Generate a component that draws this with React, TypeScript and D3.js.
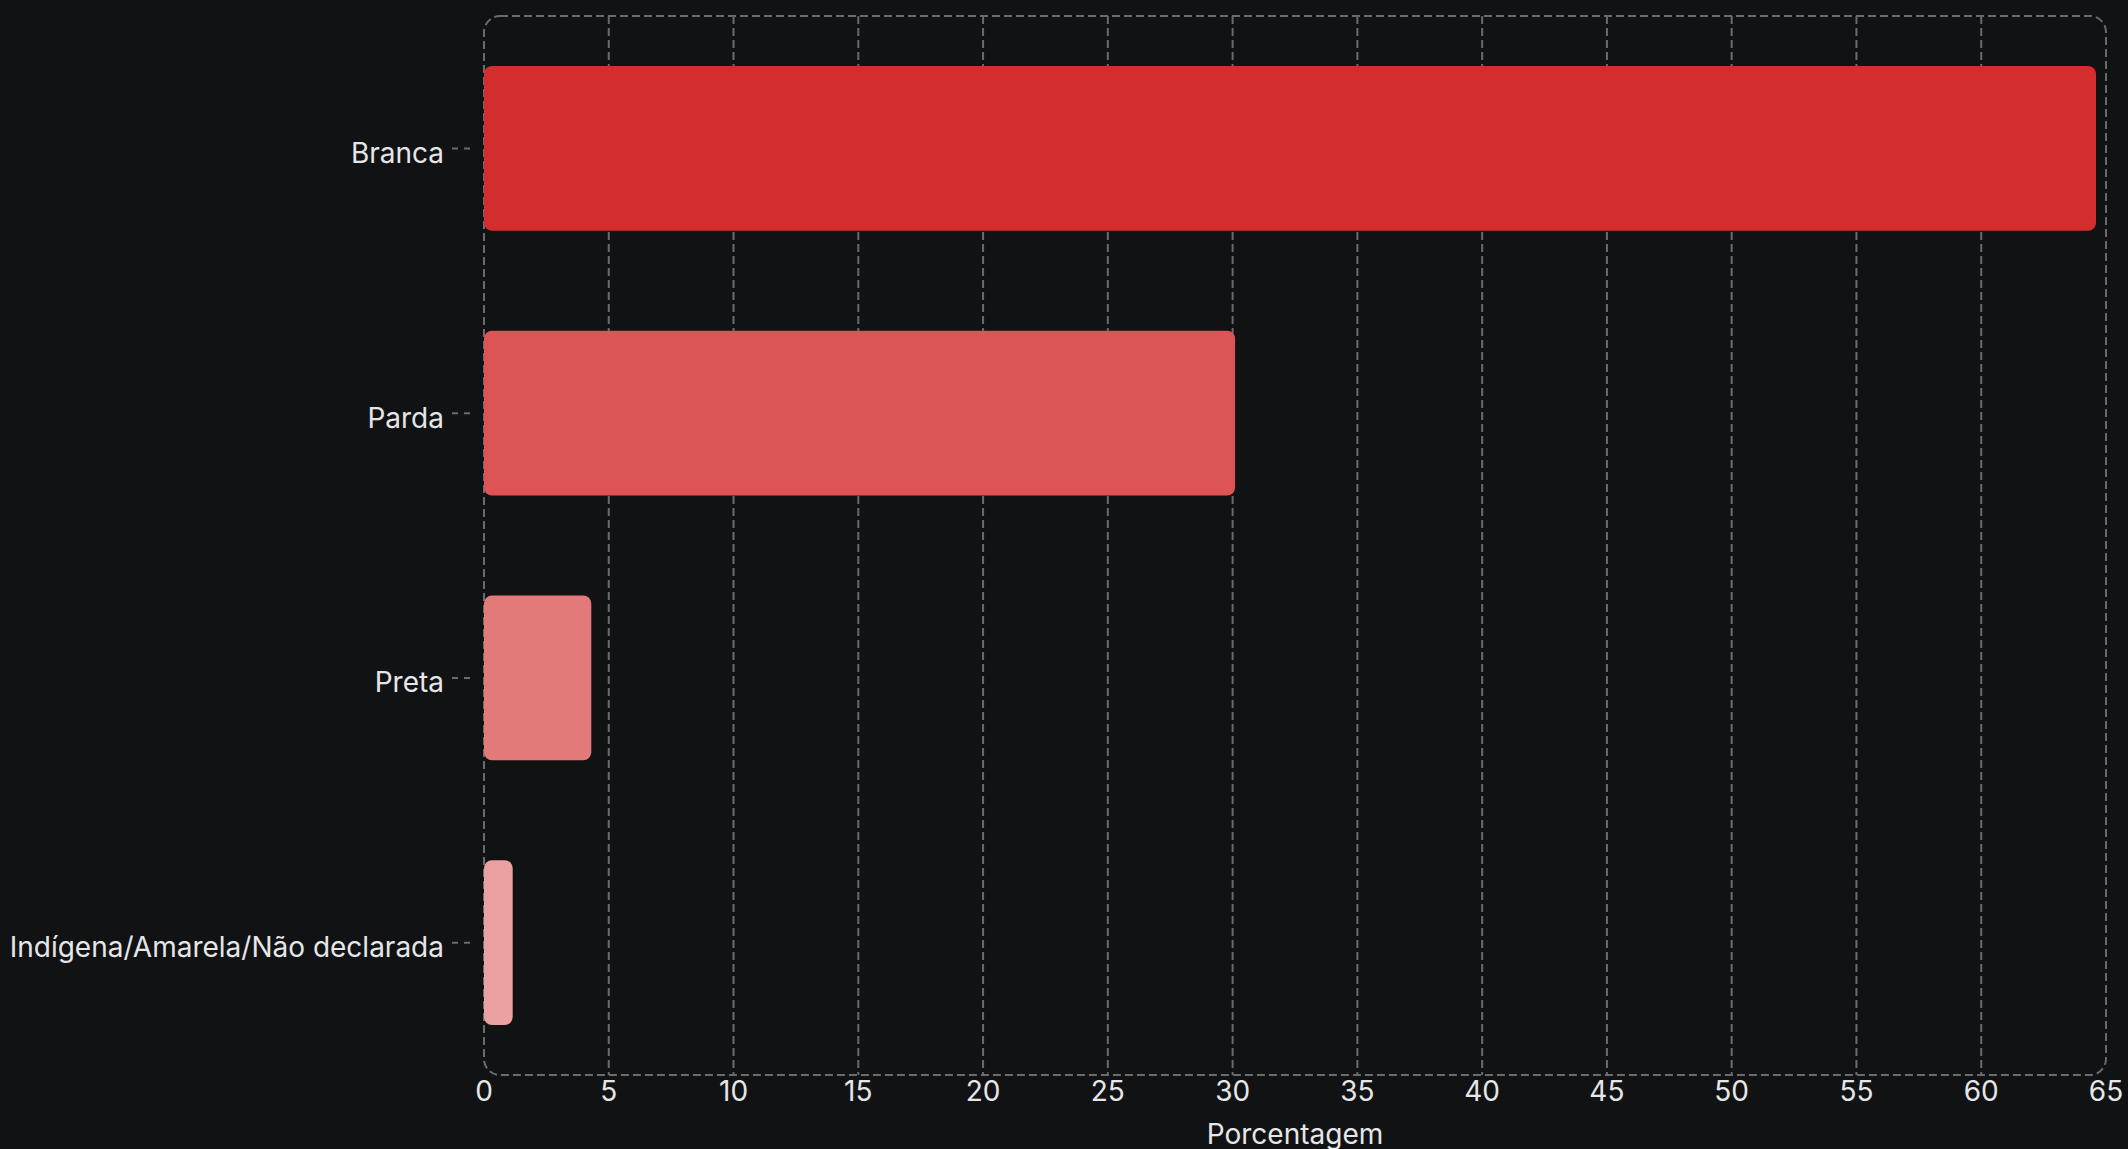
import { useEffect } from "react";
import { scaleBand, scaleLinear } from "d3";

const categories = ["Branca", "Parda", "Preta", "Indígena/Amarela/Não declarada"];
const values = [64.6, 30.1, 4.3, 1.15];
const barColors = ["#d32d2e", "#dc5455", "#e27a7a", "#eba1a1"];
const xTicks = [0, 5, 10, 15, 20, 25, 30, 35, 40, 45, 50, 55, 60, 65];
const xLabel = "Porcentagem";

const WIDTH = 2128;
const HEIGHT = 1149;
const margin = { top: 16, right: 22, bottom: 74, left: 484 };
const BG = "#111214";
const GRID = "#6a6b6e";
const TEXT = "#e6e6e8";
const FONT = "Inter, 'Noto Sans', sans-serif";

export default function App() {
  useEffect(() => {
    document.body.style.margin = "0";
    document.body.style.background = BG;
  }, []);

  const x0 = margin.left;
  const x1 = WIDTH - margin.right;
  const y0 = margin.top;
  const y1 = HEIGHT - margin.bottom;

  const x = scaleLinear().domain([0, 65]).range([x0, x1]);
  const y = scaleBand<string>()
    .domain(categories)
    .range([y0, y1])
    .paddingInner(0.377)
    .paddingOuter(0.1885);

  return (
    <svg width={WIDTH} height={HEIGHT} style={{ display: "block", background: BG }}>
      {/* vertical grid */}
      {xTicks.slice(1, -1).map((t) => (
        <line
          key={`g${t}`}
          x1={x(t)}
          x2={x(t)}
          y1={y0}
          y2={y1}
          stroke={GRID}
          strokeWidth={2}
          strokeDasharray="8 4"
        />
      ))}
      {/* plot border */}
      <rect
        x={x0}
        y={y0}
        width={x1 - x0}
        height={y1 - y0}
        rx={16}
        ry={16}
        fill="none"
        stroke={GRID}
        strokeWidth={2}
        strokeDasharray="8 4"
      />

      {/* bars */}
      {categories.map((c, i) => (
        <rect
          key={c}
          x={x(0)}
          y={y(c)}
          width={x(values[i]) - x(0)}
          height={y.bandwidth()}
          rx={8}
          ry={8}
          fill={barColors[i]}
        />
      ))}

      {/* y axis ticks + labels */}
      {categories.map((c) => {
        const cy = (y(c) ?? 0) + y.bandwidth() / 2;
        return (
          <g key={`t${c}`}>
            <line
              x1={452}
              x2={470}
              y1={cy}
              y2={cy}
              stroke={GRID}
              strokeWidth={2}
              strokeDasharray="6 6"
            />
            <text
              x={444}
              y={cy + 14.5}
              textAnchor="end"
              fill={TEXT}
              fontFamily={FONT}
              fontSize={28}
            >
              {c}
            </text>
          </g>
        );
      })}

      {/* x axis labels */}
      {xTicks.map((t) => (
        <text
          key={`x${t}`}
          x={x(t)}
          y={y1 + 26}
          textAnchor="middle"
          fill={TEXT}
          fontFamily={FONT}
          fontSize={28}
        >
          {t}
        </text>
      ))}
      <text
        x={(x0 + x1) / 2}
        y={y1 + 69}
        textAnchor="middle"
        fill={TEXT}
        fontFamily={FONT}
        fontSize={28}
      >
        {xLabel}
      </text>
    </svg>
  );
}
